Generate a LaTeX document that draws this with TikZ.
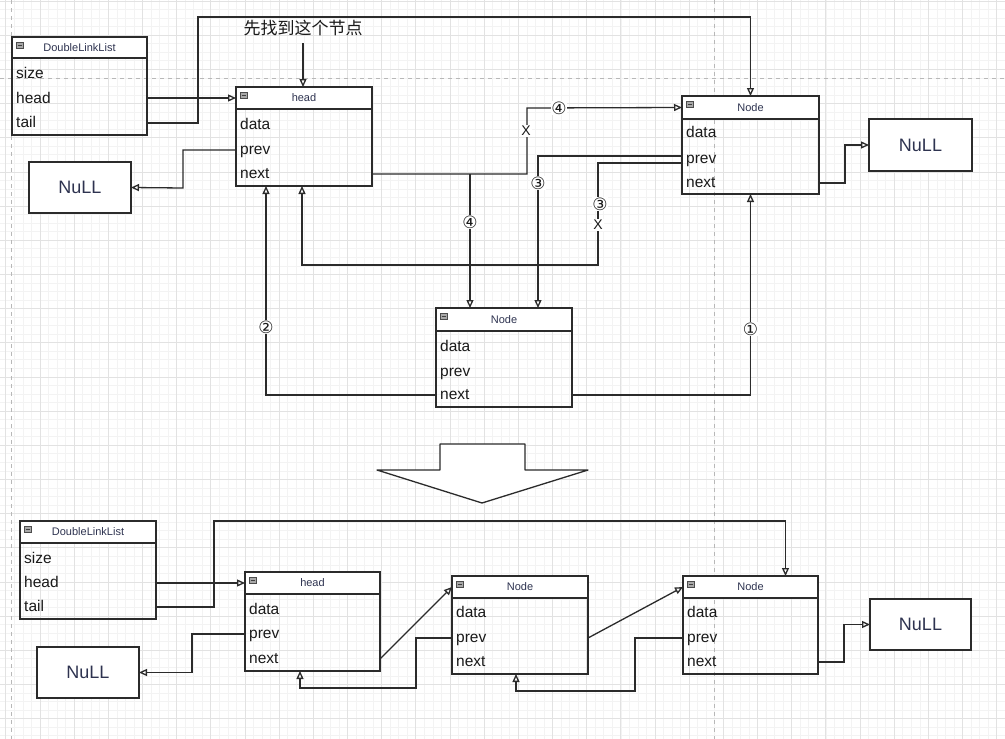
\documentclass[tikz,border=0pt]{standalone}
\usepackage{fontspec}
\setmainfont{Liberation Sans}
\newfontfamily\cjkfont{Noto Sans CJK SC}
\newfontfamily\symfont{DejaVu Sans}
\usetikzlibrary{arrows.meta,calc}

\definecolor{linec}{HTML}{2B2B2B}
\definecolor{txtc}{HTML}{1A1A1A}
\definecolor{titlec}{HTML}{2E3350}
\definecolor{gridmin}{HTML}{F3F3F3}
\definecolor{gridmaj}{HTML}{E2E2E2}
\definecolor{pagec}{HTML}{B8B8B8}
\definecolor{iconc}{HTML}{A8A8A8}

\tikzset{
  boxframe/.style={draw=linec, line width=1.4pt, rectangle, inner sep=0pt, outer sep=0pt, anchor=north west},
  rowtxt/.style={anchor=west, inner sep=0pt, text=txtc, text height=11pt, text depth=3pt, font=\fontsize{15.5}{16}\selectfont},
  titletxt/.style={inner sep=0pt, text=titlec, font=\fontsize{11}{11}\selectfont},
  nullbox/.style={draw=linec, line width=1.4pt, fill=white, rectangle, inner sep=0pt, outer sep=0pt, text=titlec, font=\fontsize{18}{18}\selectfont},
  conn/.style={draw=linec, line width=1.3pt},
  arr/.style={conn, -{Triangle[open, length=8pt, width=7pt]}},
  lbl/.style={fill=white, inner sep=0.5pt, text=txtc, font=\symfont\fontsize{17}{17}\selectfont},
  xlbl/.style={fill=white, inner sep=1pt, text=txtc, font=\fontsize{14}{14}\selectfont},
  icon/.style={fill=iconc, draw=gray!60!black, line width=0.6pt},
  pageline/.style={draw=pagec, line width=0.8pt, dash pattern=on 4pt off 4pt},
}

% name, x1, y1, x2, y2, header bottom, title
\newcommand\classbox[7]{%
  \fill[white] (#2,#3) rectangle (#4,#6);
  \node[boxframe, minimum width={(#4-#2)*1pt}, minimum height={(#5-#3)*1pt}] (#1) at (#2,#3) {};
  \draw[conn] (#2,#6) -- (#4,#6);
  \node[titletxt] (#1-t) at ({(#2+#4)/2},{(#3+#6)/2}) {#7};
  \draw[icon] ({#2+4},{#3+5}) rectangle ++(7.5,6);
  \draw[line width=1pt, black!75] ({#2+5.5},{#3+8}) -- ++(4.5,0);
}
\newcommand\rowtext[4]{\node[rowtxt] (#1) at (#2,#3) {#4};}

\begin{document}
\begin{tikzpicture}[x=1pt,y=-1pt]
\useasboundingbox (0,0) rectangle (1005,739);
\fill[white] (0,0) rectangle (1005,739);

% grid
\foreach \i in {0,...,117} \draw[gridmin, line width=0.6pt] ({5.75+\i*8.5425},0) -- ++(0,739);
\foreach \i in {0,...,86} \draw[gridmin, line width=0.6pt] (0,{1+\i*8.5425}) -- ++(1005,0);
\foreach \i in {0,...,29} \draw[gridmaj, line width=0.7pt] ({5.75+\i*34.17},0) -- ++(0,739);
\foreach \i in {0,...,21} \draw[gridmaj, line width=0.7pt] (0,{1+\i*34.17}) -- ++(1005,0);
% page breaks
\draw[pageline] (11,0) -- (11,739);
\draw[pageline] (714.5,0) -- (714.5,739);
\draw[pageline] (0,78) -- (1005,78);

% ===== top part =====
\classbox{dll1}{12}{37}{147}{135}{58}{DoubleLinkList}
\rowtext{dll1-size}{16}{74}{size}
\rowtext{dll1-head}{16}{99}{head}
\rowtext{dll1-tail}{16}{123}{tail}

\classbox{hd1}{236}{87}{372}{186}{109}{head}
\rowtext{hd1-data}{240}{125}{data}
\rowtext{hd1-prev}{240}{150}{prev}
\rowtext{hd1-next}{240}{174}{next}

\node[nullbox, minimum width=102pt, minimum height=51pt] (nul1) at (80,187.5) {NuLL};

\classbox{nd1}{682}{96}{819}{194}{119}{Node}
\rowtext{nd1-data}{686}{133}{data}
\rowtext{nd1-prev}{686}{159}{prev}
\rowtext{nd1-next}{686}{183}{next}

\node[nullbox, minimum width=103pt, minimum height=52pt] (nur1) at (920.5,145) {NuLL};

\classbox{ndm}{436}{308}{572}{407}{331}{Node}
\rowtext{ndm-data}{440}{347}{data}
\rowtext{ndm-prev}{440}{372}{prev}
\rowtext{ndm-next}{440}{395}{next}

\node[inner sep=0pt, text=txtc, font=\cjkfont\fontsize{17}{17}\selectfont] (cn) at (303,28) {先找到这个节点};

% connectors top
\coordinate (c1) at (198,17);
\coordinate (c2) at (183,188);
\coordinate (c3) at (527,108);
\coordinate (c4) at (470,174);
\coordinate (c6) at (598,265);
\coordinate (c7) at (845,145);

\draw[arr] ($(cn.south)+(0,7)$) -- (cn.south |- hd1.north);
\draw[arr] (dll1.east |- hd1-t) -- (hd1.west |- hd1-t);
\draw[arr] (dll1.east |- dll1-tail) -| (c1) -| (nd1.north);
\draw[arr] (hd1.west |- hd1-prev) -| (c2) -- (nul1.east);
\draw[arr] (hd1.east |- hd1-next) -| (c3) -- (nd1.west |- nd1-t);
\draw[arr] (c4) -- (c4 |- ndm.north);
\draw[arr] ($(nd1.west |- nd1-prev)+(0,-3)$) -| ($(ndm.north)+(34,0)$);
\draw[arr] ($(nd1.west |- nd1-prev)+(0,4)$) -| (c6) -| ($(hd1.south)+(-2,0)$);
\draw[arr] (ndm.west |- ndm-next) -| ($(hd1.south)+(-38,0)$);
\draw[arr] (ndm.east |- ndm-next) -| (nd1.south);
\draw[arr] (nd1.east |- nd1-next) -- (c7 |- nd1-next) -- (c7) -- (nur1.west);

% labels top
\node[lbl] (l4a) at (559,108) {④};
\node[xlbl] (x1) at (526,131) {X};
\node[lbl] (l4b) at (470,222) {④};
\node[lbl] (l3a) at (538,183) {③};
\node[lbl] (l3b) at (600,204) {③};
\node[xlbl] (x2) at (598,225) {X};
\node[lbl] (l2) at (266,327) {②};
\node[lbl] (l1) at (750.5,329) {①};

% big down arrow
\draw[conn, fill=white, line join=round] (440,444) -- (525,444) -- (525,470) -- (588,470) -- (482,503) -- (377,470) -- (440,470) -- cycle;

% ===== bottom part =====
\classbox{dll2}{20}{521}{156}{619}{543}{DoubleLinkList}
\rowtext{dll2-size}{24}{559}{size}
\rowtext{dll2-head}{24}{583}{head}
\rowtext{dll2-tail}{24}{607}{tail}

\classbox{hd2}{245}{572}{380}{671}{594}{head}
\rowtext{hd2-data}{249}{610}{data}
\rowtext{hd2-prev}{249}{634}{prev}
\rowtext{hd2-next}{249}{659}{next}

\node[nullbox, minimum width=102pt, minimum height=51pt] (nul2) at (88,672.5) {NuLL};

\classbox{ndb1}{452}{576}{588}{674}{598}{Node}
\rowtext{ndb1-data}{456}{613}{data}
\rowtext{ndb1-prev}{456}{638}{prev}
\rowtext{ndb1-next}{456}{662}{next}

\classbox{ndb2}{683}{576}{818}{674}{598}{Node}
\rowtext{ndb2-data}{687}{613}{data}
\rowtext{ndb2-prev}{687}{638}{prev}
\rowtext{ndb2-next}{687}{662}{next}

\node[nullbox, minimum width=101pt, minimum height=51pt] (nur2) at (920.5,624.5) {NuLL};

\coordinate (d1) at (214,521);
\coordinate (d2) at (416,688);
\coordinate (d3) at (192,672.5);
\coordinate (d4) at (635,691);
\coordinate (d5) at (844,624.5);

\draw[arr] (dll2.east |- hd2-t) -- (hd2.west |- hd2-t);
\draw[arr] (dll2.east |- dll2-tail) -| (d1) -| ($(ndb2.north)+(35,0)$);
\draw[arr] (hd2.east |- hd2-next) -- (ndb1.west |- ndb1-t);
\draw[arr] (ndb1.west |- ndb1-prev) -| (d2) -| ($(hd2.south)+(-12.5,0)$);
\draw[arr] (hd2.west |- hd2-prev) -| (d3) -- (nul2.east);
\draw[arr] (ndb1.east |- ndb1-prev) -- (ndb2.west |- ndb2-t);
\draw[arr] (ndb2.west |- ndb2-prev) -| (d4) -| ($(ndb1.south)+(-4,0)$);
\draw[arr] (ndb2.east |- ndb2-next) -| (d5) -- (nur2.west);
\end{tikzpicture}
\end{document}
